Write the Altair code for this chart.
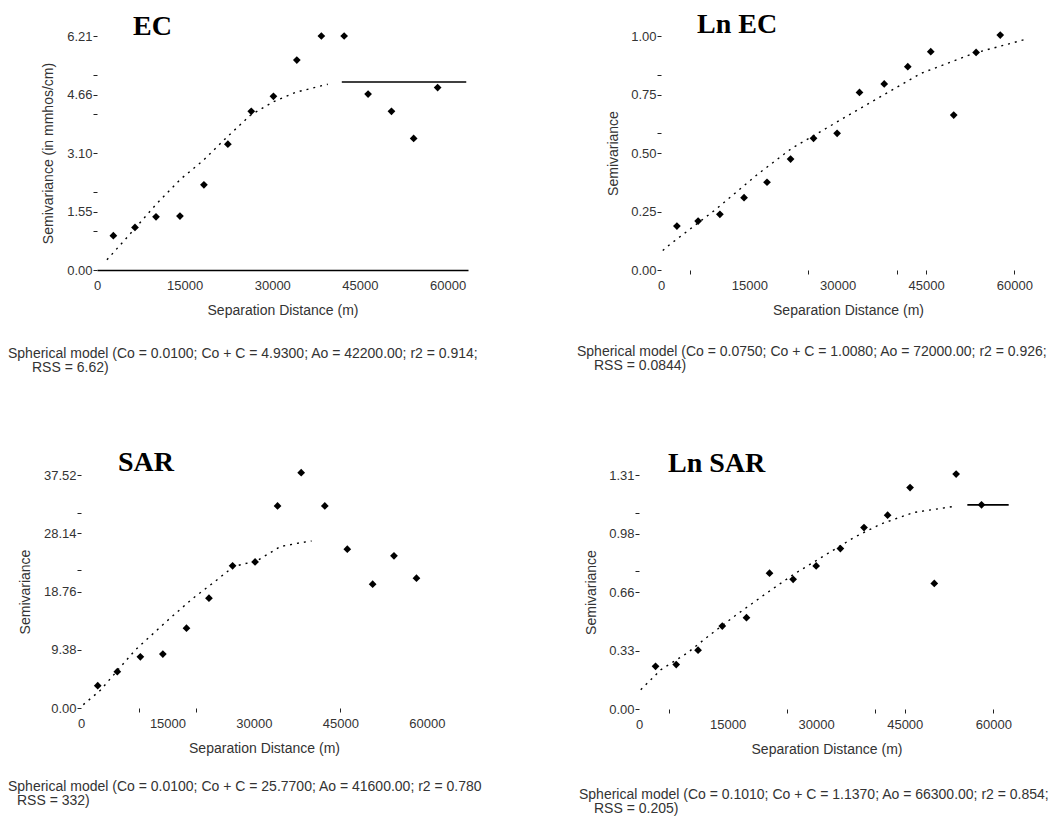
import json
import altair as alt
import pandas as pd

# ---------------- data ----------------
x_label_values = [0, 15000, 30000, 45000, 60000]

# EC
ec_dist = [2800, 6500, 10100, 14200, 18300, 22400, 26400, 30200, 34200, 38400, 42300, 46400, 50400, 54200, 58300]
ec_semi = [0.91, 1.13, 1.41, 1.43, 2.26, 3.34, 4.21, 4.61, 5.57, 6.21, 6.21, 4.67, 4.21, 3.49, 4.84]
ec_model_dist = [1700, 5800, 10100, 14300, 18200, 22200, 26200, 30100, 34100, 39500]
ec_model_semi = [0.27, 0.98, 1.74, 2.41, 2.91, 3.52, 4.10, 4.46, 4.72, 4.93]
ec_sill_dist = [41900, 63200]
ec_sill_semi = 4.99
ec_yticks = [0.0, 1.5525, 3.105, 4.6575, 6.21]
ec_yminor = [1.035, 2.07, 4.14, 5.175]
ec_xmarks = []

# Ln EC
lnec_dist = [2700, 6300, 10000, 14100, 18000, 22000, 25900, 29900, 33700, 37900, 41900, 45800, 49700, 53500, 57600]
lnec_semi = [0.188, 0.209, 0.238, 0.309, 0.375, 0.474, 0.563, 0.584, 0.759, 0.795, 0.869, 0.933, 0.662, 0.930, 1.004]
lnec_model_dist = [300, 1400, 9300, 16600, 22200, 29500, 36800, 44100, 53100, 62100]
lnec_model_semi = [0.083, 0.107, 0.259, 0.413, 0.52, 0.627, 0.734, 0.84, 0.926, 0.987]
lnec_yticks = [0.0, 0.25, 0.5, 0.75, 1.0]
lnec_yminor = [0.587, 0.833]
lnec_xmarks = [5000, 25000, 40000, 45000, 60000]

# SAR
sar_dist = [2900, 6300, 10300, 14200, 18300, 22200, 26300, 30200, 34100, 38200, 42300, 46200, 50600, 54300, 58200]
sar_semi = [3.59, 5.84, 8.25, 8.68, 12.86, 17.69, 22.89, 23.53, 32.53, 37.9, 32.53, 25.57, 19.94, 24.5, 20.9]
sar_model_dist = [400, 3300, 9400, 14900, 19200, 23000, 26500, 30500, 34600, 38000, 40000]
sar_model_semi = [0.54, 2.8, 9.33, 14.0, 17.5, 20.2, 22.8, 23.7, 26.0, 26.6, 26.9]
sar_yticks = [0.0, 9.38, 18.76, 28.14, 37.52]
sar_yminor = [22.19, 31.46]
sar_xmarks = [10000, 20000, 45000]

# Ln SAR
lnsar_dist = [2800, 6300, 10000, 14100, 18200, 22100, 26100, 30000, 34100, 38100, 42100, 45900, 50000, 53700, 58000]
lnsar_semi = [0.239, 0.249, 0.329, 0.464, 0.511, 0.760, 0.726, 0.801, 0.898, 1.016, 1.085, 1.24, 0.703, 1.315, 1.143]
lnsar_model_dist = [300, 3700, 8200, 12100, 16600, 21700, 26200, 31300, 36400, 40900, 46500, 53300]
lnsar_model_semi = [0.108, 0.22, 0.314, 0.417, 0.53, 0.651, 0.754, 0.857, 0.96, 1.035, 1.10, 1.134]
lnsar_sill_dist = [55600, 62600]
lnsar_sill_semi = 1.143
lnsar_yticks = [0.0, 0.3275, 0.655, 0.9825, 1.31]
lnsar_yminor = [0.773, 1.096]
lnsar_xmarks = [5000, 25000, 40000, 45000, 60000]

captions = {
    "EC": ["Spherical model (Co = 0.0100; Co + C = 4.9300; Ao = 42200.00; r2 = 0.914;", "RSS = 6.62)"],
    "Ln EC": ["Spherical model (Co = 0.0750; Co + C = 1.0080; Ao = 72000.00; r2 = 0.926;", "RSS = 0.0844)"],
    "SAR": ["Spherical model (Co = 0.0100; Co + C = 25.7700; Ao = 41600.00; r2 = 0.780", "RSS = 332)"],
    "Ln SAR": ["Spherical model (Co = 0.1010; Co + C = 1.1370; Ao = 66300.00; r2 = 0.854;", "RSS = 0.205)"],
}

TEXT = "#333333"
SANS = "Liberation Sans"


def panel(name, pts_x, pts_y, mod_x, mod_y, sill, width, height, ymax,
          yticks, yminor, xmarks, ytitle, ytitle_pad, x_domain,
          title_dx, title_dy, cap_pos, shift=0):
    xscale = alt.Scale(domain=[0, 63500], nice=False, zero=False, range=[shift, shift + width])
    yscale = alt.Scale(domain=[0, ymax], nice=False, zero=False)
    major_x = json.dumps(x_label_values)
    marks_x = json.dumps(xmarks)
    xaxis = alt.Axis(
        values=sorted(set(x_label_values + xmarks)),
        labelExpr=f"indexof({major_x}, datum.value) >= 0 ? format(datum.value, 'd') : ''",
        tickOpacity={"condition": {"test": f"indexof({marks_x}, datum.value) >= 0", "value": 1}, "value": 0},
        title="Separation Distance (m)",
        domain=x_domain, domainColor="black", domainWidth=1.6,
        tickSize=4, tickColor="#222222", labelPadding=5, titlePadding=11,
        labelOverlap=False, labelFlush=False,
    )
    minor_y = json.dumps(yminor)
    yaxis = alt.Axis(
        values=sorted(yticks + yminor),
        labelExpr=f"indexof({minor_y}, datum.value) >= 0 ? '' : format(datum.value, '.2f')",
        title=ytitle, domain=False, tickSize=4, tickColor="#222222", offset=-shift,
        labelPadding=1, titlePadding=ytitle_pad, labelOverlap=False, labelFlush=False,
    )
    X = alt.X("dist:Q", scale=xscale, axis=xaxis)
    Y = alt.Y("semi:Q", scale=yscale, axis=yaxis)

    layers = []
    layers.append(
        alt.Chart(pd.DataFrame({"dist": mod_x, "semi": mod_y}))
        .mark_line(color="black", strokeWidth=1.4, strokeDash=[2, 5])
        .encode(x=X, y=Y)
    )
    if sill is not None:
        sx, sy = sill
        layers.append(
            alt.Chart(pd.DataFrame({"dist": [sx[0]], "dist2": [sx[1]], "semi": [sy]}))
            .mark_rule(color="black", strokeWidth=1.6)
            .encode(x=X, x2="dist2:Q", y=Y)
        )
    layers.append(
        alt.Chart(pd.DataFrame({"dist": pts_x, "semi": pts_y}))
        .mark_point(shape="diamond", filled=True, size=60, color="black", opacity=1)
        .encode(x=X, y=Y)
    )
    one = pd.DataFrame({"k": [0]})
    (cx1, cy1), (cx2, cy2) = cap_pos
    l1, l2 = captions[name]
    layers.append(
        alt.Chart(one).mark_text(text=l1, align="left", baseline="middle", font=SANS,
                                 fontSize=14, color=TEXT)
        .encode(x=alt.value(cx1 + shift), y=alt.value(cy1))
    )
    layers.append(
        alt.Chart(one).mark_text(text=l2, align="left", baseline="middle", font=SANS,
                                 fontSize=14, color=TEXT)
        .encode(x=alt.value(cx2 + shift), y=alt.value(cy2))
    )
    return alt.layer(*layers).properties(
        width=width + shift, height=height,
        title=alt.TitleParams(
            text=name, anchor="start", frame="group", dx=title_dx + shift, dy=title_dy,
            offset=0, baseline="alphabetic", font="Liberation Serif", fontSize=28,
            fontWeight="bold", color="black",
        ),
    )


p1 = panel("EC", ec_dist, ec_semi, ec_model_dist, ec_model_semi, (ec_sill_dist, ec_sill_semi),
           371, 234, 6.21, ec_yticks, ec_yminor, ec_xmarks,
           "Semivariance (in mmhos/cm)", 11, True, 36, 33,
           ((-89, 318), (-65, 332)), shift=16)
p2 = panel("Ln EC", lnec_dist, lnec_semi, lnec_model_dist, lnec_model_semi, None,
           374, 234, 1.0, lnec_yticks, lnec_yminor, lnec_xmarks,
           "Semivariance", 10, False, 36, 31,
           ((-84, 316), (-67, 330)))
p3 = panel("SAR", sar_dist, sar_semi, sar_model_dist, sar_model_semi, None,
           366, 233, 37.52, sar_yticks, sar_yminor, sar_xmarks,
           "Semivariance", 11, False, 37, 30,
           ((-73, 312), (-64, 326)))
p4 = panel("Ln SAR", lnsar_dist, lnsar_semi, lnsar_model_dist, lnsar_model_semi,
           (lnsar_sill_dist, lnsar_sill_semi),
           375, 234, 1.31, lnsar_yticks, lnsar_yminor, lnsar_xmarks,
           "Semivariance", 10, False, 29, 31,
           ((-60, 320), (-45, 334)))

row1 = alt.hconcat(p1, p2, spacing=98)
row2 = alt.hconcat(p3, p4, spacing=96)

chart = (
    alt.vconcat(row1, row2, spacing=73)
    .properties(padding={"left": 0, "top": 3, "right": 0, "bottom": 0})
    .configure_view(strokeWidth=0)
    .configure_axis(
        grid=False,
        labelFont=SANS, labelFontSize=13, labelColor=TEXT,
        titleFont=SANS, titleFontSize=14, titleFontWeight="normal", titleColor=TEXT,
    )
)

chart.save("out.html", embed_options={"renderer": "svg", "actions": False})
